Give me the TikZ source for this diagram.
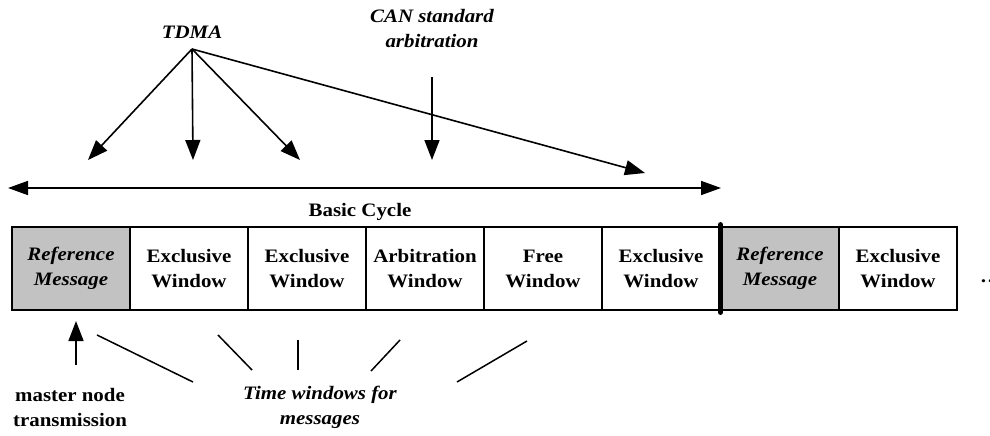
\documentclass[tikz,border=0pt]{standalone}
\usepackage{fontspec}
\setmainfont{Liberation Serif}[FakeStretch=1.1]
\usetikzlibrary{arrows.meta}
\begin{document}
\begin{tikzpicture}[x=1pt,y=-1pt,
  win/.style={draw, line width=1.3pt, minimum width=118pt, minimum height=83pt, inner sep=0pt, align=center,
    font=\bfseries\fontsize{19}{25}\selectfont},
  refw/.style={win, fill=gray!48, font=\bfseries\itshape\fontsize{19}{25}\selectfont},
  lbl/.style={align=center, inner sep=0pt, font=\bfseries\fontsize{19}{25}\selectfont},
  ilbl/.style={lbl, font=\bfseries\itshape\fontsize{19}{25}\selectfont},
  arr/.style={line width=1.6pt, -{Triangle[length=20pt,width=15pt]}},
  ln/.style={line width=1.5pt}]
\useasboundingbox (0,0) rectangle (990,436);
\clip (0,0) rectangle (990,436);
% windows
\node[refw] (b1) at (71,268.5) {Reference\\Message};
\node[win] (b2) at (189,268.5) {Exclusive\\Window};
\node[win] (b3) at (307,268.5) {Exclusive\\Window};
\node[win] (b4) at (425,268.5) {Arbitration\\Window};
\node[win] (b5) at (543,268.5) {Free\\Window};
\node[win] (b6) at (661,268.5) {Exclusive\\Window};
\node[refw] (b7) at (780,268.5) {Reference\\Message};
\node[win] (b8) at (898,268.5) {Exclusive\\Window};
\draw[line width=4.5pt, line cap=round] ([yshift=2pt]b6.north east) -- ([yshift=-2pt]b6.south east);
\node[lbl, anchor=west] (dots) at (980,281) {\ldots};
% labels
\node[ilbl] (tdma) at (192,32) {TDMA};
\node[ilbl] (can) at (432,29) {CAN standard\\arbitration};
\node[lbl] (bc) at (360,212) {Basic Cycle};
\node[lbl] (mn) at (70,407) {master node\\transmission};
\node[ilbl] (tw) at (320,407) {Time windows for\\messages};
% TDMA arrows
\coordinate (src) at (192,49);
\coordinate (t1) at (88,160);
\coordinate (t2) at (193,160);
\coordinate (t3) at (300,160);
\coordinate (t4) at (645,173);
\draw[arr] (src) -- (t1);
\draw[arr] (src) -- (t2);
\draw[arr] (src) -- (t3);
\draw[arr] (src) -- (t4);
\coordinate (c0) at (432,77);
\coordinate (c1) at (432,160);
\draw[arr] (c0) -- (c1);
% basic cycle
\coordinate (bl) at (8,188);
\coordinate (br) at (721,188);
\draw[line width=1.6pt, {Triangle[length=20pt,width=14pt]}-{Triangle[length=20pt,width=14pt]}] (bl) -- (br);
% bottom
\coordinate (m0) at (76,365);
\coordinate (m1) at (76,321);
\draw[arr] (m0) -- (m1);
\coordinate (l1a) at (97,335); \coordinate (l1b) at (193,382);
\coordinate (l2a) at (218,335); \coordinate (l2b) at (252,370);
\coordinate (l3a) at (298,340); \coordinate (l3b) at (298,370);
\coordinate (l4a) at (400,340); \coordinate (l4b) at (371,371);
\coordinate (l5a) at (527,341); \coordinate (l5b) at (457,382);
\draw[ln] (l1a) -- (l1b);
\draw[ln] (l2a) -- (l2b);
\draw[ln] (l3a) -- (l3b);
\draw[ln] (l4a) -- (l4b);
\draw[ln] (l5a) -- (l5b);
\end{tikzpicture}
\end{document}
